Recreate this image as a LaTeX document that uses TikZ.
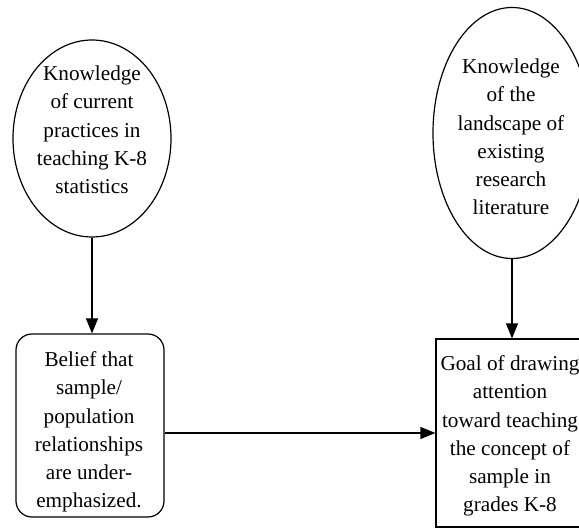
\documentclass[tikz,border=0pt]{standalone}
\usepackage{fontspec}
\setmainfont{Liberation Serif}
\usetikzlibrary{shapes.geometric,arrows.meta}
\begin{document}
\begin{tikzpicture}[x=1pt,y=-1pt,
  shape line/.style={draw=black,line width=1.2pt},
  txt/.style={align=center,font=\fontsize{21.2}{28.3}\selectfont,inner sep=0pt},
  arr/.style={line width=1.2pt,-{Triangle[length=15pt,width=12pt]}}]
\useasboundingbox (0,0) rectangle (579,529);
\node[shape line,ellipse,minimum width=158pt,minimum height=197pt,inner sep=0pt] (e1) at (92,138.5) {};
\node[txt] (t1) at (92,130) {Knowledge\\of current\\practices in\\teaching K-8\\statistics};
\node[shape line,ellipse,minimum width=158pt,minimum height=251pt,inner sep=0pt] (e2) at (512,133) {};
\node[txt] (t2) at (511,137) {Knowledge\\of the\\landscape of\\existing\\research\\literature};
\node[shape line,rounded corners=16pt,minimum width=148pt,minimum height=183pt,inner sep=0pt] (b1) at (90,425.5) {};
\node[txt] (t3) at (89,432) {Belief that\\sample/\\population\\relationships\\are under-\\emphasized.};
\node[shape line,minimum width=152pt,minimum height=188pt,inner sep=0pt] (b2) at (512,433) {};
\node[txt] (t4) at (510,436) {Goal of drawing\\attention\\toward teaching\\the concept of\\sample in\\grades K-8};
\draw[arr] (e1.south) -- (e1.south |- b1.north);
\draw[arr] (e2.south) -- (b2.north);
\draw[arr] (b1.east |- b2.west) -- (b2.west);
\end{tikzpicture}
\end{document}
